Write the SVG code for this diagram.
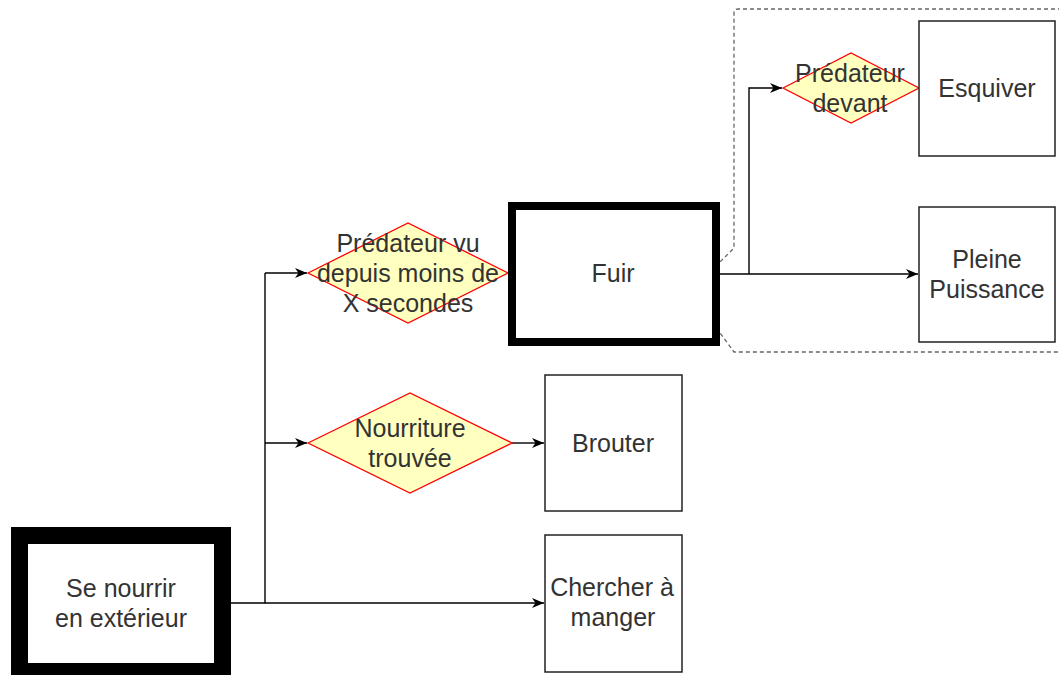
<svg xmlns="http://www.w3.org/2000/svg" width="1059" height="675" viewBox="0 0 1059 675">
<defs>
<style>
.t{font-family:"Liberation Sans",Arial,sans-serif;font-size:25px;fill:#333;text-anchor:middle}
.box{fill:#fff;stroke:#222;stroke-width:1.5}
.dia{fill:#ffffc0;stroke:#ff0000;stroke-width:1.3}
.c{fill:none;stroke:#000;stroke-width:1.4;marker-end:url(#arr)}
.ln{fill:none;stroke:#000;stroke-width:1.4}
</style>
<marker id="arr" markerWidth="14" markerHeight="12" refX="12" refY="6" orient="auto" markerUnits="userSpaceOnUse">
<path d="M0,1 L12,6 L0,11 L3.5,6 z" fill="#000"/>
</marker>
</defs>
<rect width="1059" height="675" fill="#fff"/>
<g id="group-fuir">
<path d="M1062,9 H738 Q734,9 734,13 V248 L718,264 V330 L734,352 H1062" fill="none" stroke="#666" stroke-width="1.3" stroke-dasharray="4 3"/>
</g>
<g id="connectors">
<path class="ln" d="M231,603 H265 V273"/>
<path class="c" d="M265,273 H307"/>
<path class="c" d="M265,443 H307"/>
<path class="c" d="M265,603 H544"/>
<path class="c" d="M512,443 H544"/>
<path class="c" d="M720,274 H918"/>
<path class="c" d="M749,274 V88 H782"/>
</g>
<g id="se-nourrir">
<rect x="19.5" y="535.5" width="203" height="136" fill="#fff" stroke="#000" stroke-width="17"/>
<text class="t" x="121" y="597">Se nourrir</text>
<text class="t" x="121" y="627">en extérieur</text>
</g>
<g id="predateur-vu">
<polygon class="dia" points="308,273 408,223 508,273 408,323"/>
<text class="t" x="408" y="252">Prédateur vu</text>
<text class="t" x="408" y="282">depuis moins de</text>
<text class="t" x="408" y="312">X secondes</text>
</g>
<g id="fuir">
<rect x="512" y="206" width="204" height="136" fill="#fff" stroke="#000" stroke-width="8"/>
<text class="t" x="613" y="282">Fuir</text>
</g>
<g id="nourriture-trouvee">
<polygon class="dia" points="308,443 410,393 512,443 410,493"/>
<text class="t" x="410" y="437">Nourriture</text>
<text class="t" x="410" y="467">trouvée</text>
</g>
<g id="brouter">
<rect class="box" x="545" y="375" width="137" height="136"/>
<text class="t" x="613" y="452">Brouter</text>
</g>
<g id="chercher">
<rect class="box" x="545" y="535" width="137" height="137"/>
<text class="t" x="612" y="596">Chercher à</text>
<text class="t" x="613" y="626">manger</text>
</g>
<g id="predateur-devant">
<polygon class="dia" points="783,88 851,53 919,88 851,123"/>
<text class="t" x="850" y="82">Prédateur</text>
<text class="t" x="850" y="112">devant</text>
</g>
<g id="esquiver">
<rect class="box" x="919" y="21" width="136" height="135"/>
<text class="t" x="987" y="97">Esquiver</text>
</g>
<g id="pleine-puissance">
<rect class="box" x="919" y="207" width="136" height="135"/>
<text class="t" x="987" y="268">Pleine</text>
<text class="t" x="987" y="298">Puissance</text>
</g>
</svg>
